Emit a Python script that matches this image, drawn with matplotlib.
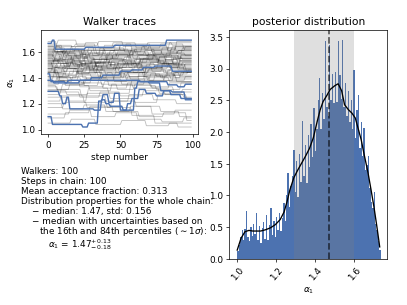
import numpy as np
import matplotlib.pyplot as plt

# walker chains, stored as (step, value) change points; each value holds until the next point
n_steps = 100
gray_walkers = [
    [(0, 1.62), (7, 1.58), (15, 1.60), (29, 1.55), (41, 1.59), (58, 1.63), (72, 1.60), (88, 1.64)],
    [(0, 1.55), (4, 1.52), (18, 1.57), (26, 1.49), (44, 1.53), (61, 1.50), (77, 1.56), (93, 1.54)],
    [(0, 1.48), (9, 1.51), (21, 1.46), (35, 1.50), (47, 1.44), (63, 1.48), (80, 1.52), (91, 1.47)],
    [(0, 1.68), (6, 1.64), (19, 1.66), (33, 1.61), (50, 1.65), (67, 1.62), (84, 1.67)],
    [(0, 1.41), (11, 1.45), (24, 1.40), (37, 1.47), (52, 1.43), (69, 1.46), (86, 1.42)],
    [(0, 1.52), (5, 1.56), (17, 1.50), (30, 1.54), (45, 1.58), (59, 1.55), (74, 1.59), (95, 1.57)],
    [(0, 1.35), (8, 1.38), (22, 1.33), (39, 1.37), (55, 1.41), (70, 1.38), (87, 1.44)],
    [(0, 1.60), (12, 1.57), (25, 1.62), (40, 1.58), (56, 1.54), (73, 1.59), (90, 1.61)],
    [(0, 1.45), (3, 1.49), (16, 1.53), (31, 1.47), (48, 1.51), (64, 1.55), (82, 1.50)],
    [(0, 1.58), (10, 1.54), (23, 1.59), (36, 1.63), (53, 1.60), (68, 1.57), (85, 1.62)],
    [(0, 1.30), (13, 1.27), (28, 1.32), (42, 1.28), (57, 1.34), (75, 1.31), (92, 1.36)],
    [(0, 1.50), (6, 1.47), (20, 1.43), (34, 1.48), (49, 1.45), (66, 1.41), (83, 1.46)],
    [(0, 1.64), (9, 1.60), (24, 1.56), (38, 1.61), (54, 1.66), (71, 1.63), (89, 1.59)],
    [(0, 1.25), (14, 1.22), (27, 1.28), (43, 1.24), (60, 1.21), (76, 1.27), (94, 1.25)],
    [(0, 1.56), (4, 1.60), (19, 1.64), (32, 1.59), (46, 1.62), (62, 1.58), (79, 1.63)],
    [(0, 1.42), (8, 1.38), (21, 1.42), (37, 1.39), (51, 1.35), (67, 1.40), (84, 1.37)],
    [(0, 1.53), (11, 1.49), (26, 1.52), (41, 1.56), (58, 1.51), (74, 1.48), (91, 1.53)],
    [(0, 1.20), (10, 1.16), (25, 1.19), (40, 1.14), (57, 1.18), (72, 1.12), (88, 1.15)],
    [(0, 1.66), (7, 1.69), (20, 1.65), (35, 1.68), (52, 1.64), (69, 1.67), (86, 1.65)],
    [(0, 1.47), (5, 1.43), (18, 1.47), (33, 1.52), (47, 1.49), (63, 1.53), (81, 1.49)],
    [(0, 1.38), (12, 1.34), (29, 1.30), (44, 1.35), (59, 1.32), (77, 1.28), (93, 1.31)],
    [(0, 1.57), (9, 1.53), (23, 1.49), (39, 1.54), (55, 1.57), (70, 1.53), (87, 1.56)],
    [(0, 1.12), (15, 1.15), (30, 1.10), (47, 1.13), (62, 1.08), (79, 1.06), (94, 1.09)],
    [(0, 1.61), (6, 1.65), (17, 1.61), (31, 1.57), (48, 1.60), (65, 1.64), (83, 1.60)],
    [(0, 1.44), (10, 1.48), (24, 1.44), (38, 1.40), (53, 1.44), (68, 1.50), (85, 1.47)],
    [(0, 1.33), (7, 1.29), (22, 1.25), (36, 1.29), (50, 1.26), (66, 1.30), (81, 1.27), (96, 1.24)],
    [(0, 1.54), (13, 1.58), (27, 1.54), (42, 1.50), (60, 1.54), (76, 1.51), (92, 1.58)],
    [(0, 1.05), (16, 1.08), (33, 1.04), (51, 1.07), (68, 1.03), (84, 1.05)],
    [(0, 1.49), (4, 1.54), (19, 1.50), (34, 1.46), (50, 1.50), (66, 1.46), (82, 1.43), (97, 1.46)],
    [(0, 1.59), (11, 1.62), (26, 1.57), (43, 1.61), (59, 1.57), (75, 1.54), (90, 1.58)],
    [(0, 1.27), (9, 1.31), (23, 1.26), (40, 1.22), (56, 1.27), (73, 1.23), (89, 1.20)],
    [(0, 1.46), (7, 1.42), (21, 1.46), (36, 1.43), (54, 1.39), (71, 1.43), (88, 1.40)],
    [(0, 1.63), (12, 1.59), (28, 1.63), (45, 1.67), (61, 1.63), (78, 1.66), (94, 1.62)],
    [(0, 1.17), (11, 1.21), (27, 1.17), (44, 1.22), (61, 1.18), (78, 1.14), (91, 1.10)],
    [(0, 1.51), (8, 1.55), (22, 1.51), (37, 1.55), (53, 1.52), (69, 1.56), (86, 1.52)],
    [(0, 1.40), (14, 1.36), (30, 1.41), (46, 1.37), (63, 1.42), (80, 1.38), (95, 1.41)],
    [(0, 1.57), (5, 1.53), (16, 1.56), (32, 1.52), (49, 1.48), (65, 1.52), (82, 1.57)],
    [(0, 1.22), (9, 1.26), (25, 1.21), (41, 1.17), (58, 1.11), (74, 1.05), (90, 1.02)],
    [(0, 1.65), (10, 1.61), (24, 1.58), (39, 1.62), (56, 1.59), (72, 1.62), (89, 1.68)],
    [(0, 1.36), (6, 1.40), (20, 1.44), (35, 1.40), (51, 1.46), (67, 1.42), (85, 1.39)],
    [(0, 1.53), (13, 1.50), (29, 1.46), (46, 1.51), (62, 1.47), (79, 1.51), (95, 1.48)],
    [(0, 1.09), (12, 1.13), (29, 1.18), (45, 1.14), (63, 1.10), (80, 1.13), (96, 1.07)],
    [(0, 1.44), (8, 1.40), (23, 1.36), (38, 1.32), (55, 1.36), (71, 1.33), (87, 1.29)],
    [(0, 1.60), (11, 1.56), (25, 1.52), (41, 1.57), (57, 1.61), (73, 1.57), (91, 1.53)],
    [(0, 1.31), (10, 1.35), (26, 1.39), (42, 1.34), (58, 1.38), (74, 1.42), (89, 1.37)],
    [(0, 1.50), (3, 1.53), (9, 1.49), (16, 1.52), (24, 1.55), (33, 1.51), (41, 1.47), (52, 1.50), (64, 1.54), (78, 1.51), (90, 1.55)],
    [(0, 1.43), (5, 1.46), (12, 1.42), (20, 1.45), (27, 1.49), (38, 1.45), (47, 1.48), (59, 1.44), (70, 1.47), (83, 1.50), (94, 1.46)],
    [(0, 1.58), (4, 1.55), (11, 1.59), (19, 1.56), (28, 1.52), (36, 1.56), (48, 1.59), (57, 1.55), (69, 1.58), (81, 1.54), (92, 1.57)],
    [(0, 1.47), (6, 1.51), (14, 1.55), (23, 1.51), (31, 1.54), (43, 1.50), (54, 1.53), (62, 1.57), (76, 1.53), (87, 1.50)],
    [(0, 1.39), (4, 1.43), (13, 1.47), (21, 1.43), (29, 1.46), (40, 1.42), (51, 1.46), (60, 1.49), (72, 1.45), (85, 1.48), (96, 1.44)],
    [(0, 1.55), (7, 1.51), (15, 1.47), (22, 1.51), (34, 1.48), (44, 1.52), (56, 1.48), (66, 1.45), (79, 1.49), (93, 1.52)],
    [(0, 1.62), (5, 1.59), (13, 1.62), (22, 1.58), (30, 1.61), (39, 1.65), (50, 1.61), (61, 1.58), (73, 1.61), (86, 1.64)],
    [(0, 1.45), (6, 1.41), (15, 1.45), (25, 1.48), (32, 1.44), (45, 1.41), (55, 1.44), (68, 1.48), (80, 1.44), (91, 1.41)],
    [(0, 1.52), (3, 1.48), (12, 1.52), (18, 1.49), (29, 1.45), (37, 1.49), (49, 1.53), (58, 1.49), (71, 1.52), (84, 1.48), (95, 1.51)],
    [(0, 1.37), (8, 1.41), (16, 1.38), (25, 1.34), (35, 1.38), (46, 1.42), (57, 1.39), (67, 1.43), (78, 1.40), (92, 1.44)],
    [(0, 1.59), (4, 1.63), (10, 1.59), (20, 1.55), (28, 1.59), (40, 1.55), (49, 1.58), (60, 1.62), (74, 1.58), (86, 1.55)],
    [(0, 1.49), (5, 1.45), (14, 1.49), (24, 1.53), (33, 1.49), (42, 1.53), (53, 1.56), (64, 1.52), (77, 1.56), (89, 1.53)],
    [(0, 1.41), (7, 1.37), (17, 1.41), (27, 1.38), (36, 1.42), (47, 1.45), (56, 1.41), (69, 1.38), (81, 1.42), (94, 1.45)],
    [(0, 1.56), (6, 1.60), (14, 1.57), (23, 1.61), (34, 1.58), (45, 1.54), (57, 1.58), (67, 1.61), (79, 1.58), (90, 1.61)],
    [(0, 1.47), (4, 1.44), (11, 1.47), (21, 1.43), (30, 1.40), (41, 1.44), (51, 1.40), (63, 1.44), (75, 1.41), (88, 1.44)],
    [(0, 1.53), (8, 1.57), (17, 1.53), (26, 1.57), (36, 1.61), (47, 1.57), (59, 1.60), (70, 1.56), (82, 1.59), (93, 1.63)],
    [(0, 1.34), (6, 1.31), (15, 1.35), (25, 1.39), (37, 1.35), (48, 1.31), (60, 1.35), (72, 1.32), (84, 1.36)],
    [(0, 1.64), (5, 1.60), (16, 1.64), (26, 1.67), (35, 1.63), (47, 1.66), (58, 1.62), (70, 1.65), (83, 1.61), (95, 1.64)],
    [(0, 1.51), (7, 1.47), (13, 1.51), (22, 1.47), (33, 1.51), (43, 1.55), (52, 1.51), (65, 1.47), (76, 1.50), (90, 1.46)],
    [(0, 1.44), (5, 1.48), (14, 1.52), (24, 1.48), (34, 1.52), (44, 1.48), (55, 1.52), (66, 1.55), (77, 1.51), (87, 1.55)],
]
blue_walkers = [
    [(0, 1.665), (3, 1.69), (5, 1.62), (26, 1.635), (46, 1.65), (82, 1.69)],
    [(0, 1.43), (2, 1.37), (12, 1.36), (22, 1.38), (40, 1.38), (64, 1.37), (83, 1.345), (90, 1.33), (95, 1.35)],
    [(0, 1.38), (4, 1.36), (14, 1.38), (30, 1.40), (38, 1.42), (50, 1.45), (58, 1.46), (66, 1.48), (74, 1.49), (86, 1.45)],
    [(0, 1.295), (8, 1.26), (10, 1.20), (13, 1.25), (15, 1.16), (32, 1.15), (37, 1.23), (40, 1.20), (43, 1.18),
     (52, 1.15), (60, 1.32), (62, 1.37), (70, 1.36), (78, 1.30), (86, 1.29), (95, 1.23)],
    [(0, 1.10), (3, 1.04), (24, 1.02), (28, 1.05), (35, 1.22), (38, 1.27), (42, 1.21), (46, 1.28), (50, 1.15),
     (55, 1.20), (58, 1.24), (63, 1.31), (68, 1.28), (75, 1.26), (80, 1.30), (85, 1.27), (92, 1.24)],
]

# posterior histogram (density per bin) over [hist_lo, hist_hi]
hist_lo, hist_hi = 1.0, 1.735
hist_density = [
    0.12, 0.22, 0.35, 0.46, 0.30, 0.47, 0.75, 0.34, 0.28, 0.50,
    0.36, 0.55, 0.40, 0.73, 0.30, 0.52, 0.25, 0.49, 0.58, 0.32,
    0.69, 0.30, 0.54, 0.80, 0.38, 0.60, 0.35, 0.66, 0.46, 0.72,
    0.44, 0.64, 0.88, 0.60, 1.00, 1.36, 0.82, 1.15, 1.30, 1.72,
    1.05, 1.55, 0.98, 1.66, 1.22, 2.17, 1.30, 1.80, 1.20, 1.95,
    1.45, 2.12, 1.60, 2.38, 1.70, 2.05, 2.50, 2.85, 2.05, 2.62,
    2.20, 3.44, 2.40, 2.25, 3.37, 2.50, 2.92, 2.45, 2.95, 2.48,
    3.43, 2.90, 2.52, 3.45, 2.40, 2.78, 2.25, 2.65, 2.15, 2.50,
    2.05, 2.98, 1.90, 2.35, 2.59, 1.75, 2.15, 1.62, 2.06, 1.40,
    1.48, 1.62, 1.12, 0.90, 0.80, 1.06, 0.55, 0.46, 0.28, 0.14,
]

# smoothed density curve
kde_x = [1.00, 1.02, 1.04, 1.06, 1.08, 1.10, 1.12, 1.145, 1.17, 1.195, 1.22, 1.24, 1.255, 1.27,
         1.29, 1.31, 1.33, 1.35, 1.37, 1.39, 1.41, 1.425, 1.44, 1.46, 1.476, 1.50, 1.517, 1.535,
         1.55, 1.57, 1.587, 1.605, 1.62, 1.635, 1.65, 1.67, 1.685, 1.70, 1.715, 1.73]
kde_y = [0.14, 0.33, 0.43, 0.45, 0.44, 0.44, 0.44, 0.46, 0.49, 0.54, 0.62, 0.74, 0.90, 1.09,
         1.28, 1.40, 1.51, 1.62, 1.74, 1.91, 2.17, 2.35, 2.48, 2.58, 2.67, 2.73, 2.76, 2.65,
         2.43, 2.35, 2.30, 2.22, 2.05, 1.88, 1.65, 1.36, 1.10, 0.83, 0.52, 0.19]

median, err_up, err_lo = 1.47, 0.13, 0.18
std = 0.156
acceptance = 0.313
n_walkers = 100

blue = '#4C72B0'


def expand(points):
    vals = np.empty(n_steps)
    for k, (s, v) in enumerate(points):
        end = points[k + 1][0] if k + 1 < len(points) else n_steps
        vals[s:end] = v
    return vals


fig = plt.figure(figsize=(6.4, 4.8), dpi=63.6)
ax1 = fig.add_axes([0.1007, 0.5597, 0.3866, 0.3419])
ax2 = fig.add_axes([0.5636, 0.1508, 0.3870, 0.7485])

steps = np.arange(n_steps)
for w in gray_walkers:
    ax1.plot(steps, expand(w), color='k', alpha=0.25, lw=1.0)
for w in blue_walkers:
    ax1.plot(steps, expand(w), color=blue, lw=1.6)
ax1.set_xlim(-4.95, 103.95)
ax1.set_ylim(0.965, 1.77)
ax1.set_yticks([1.0, 1.2, 1.4, 1.6])
ax1.set_xlabel('step number')
ax1.set_ylabel(r'$\alpha_1$')
ax1.set_title('Walker traces')

edges = np.linspace(hist_lo, hist_hi, len(hist_density) + 1)
centers = 0.5 * (edges[:-1] + edges[1:])
ax2.hist(centers, bins=edges, weights=hist_density, color=blue)
ax2.axvspan(median - err_lo, median + err_up, color='gray', alpha=0.25, lw=0)
ax2.axvline(median, color='k', ls='--', lw=2, alpha=0.6)
ax2.plot(kde_x, kde_y, color='k', lw=1.5)
ax2.set_xlim(0.96, 1.767)
ax2.set_ylim(0, 3.6)
ax2.set_xticks([1.0, 1.2, 1.4, 1.6])
ax2.tick_params(axis='x', labelrotation=50)
ax2.set_xlabel(r'$\alpha_1$')
ax2.set_title('posterior distribution')

# summary text block
lines = [
    (0.052, 171.7, f'Walkers: {n_walkers}'),
    (0.052, 181.7, f'Steps in chain: {n_steps}'),
    (0.052, 191.7, f'Mean acceptance fraction: {acceptance:.3f}'),
    (0.052, 201.7, 'Distribution properties for the whole chain:'),
    (0.078, 211.4, f'\u2212 median: {median:.2f}, std: {std:.3f}'),
    (0.078, 221.3, '\u2212 median with uncertainties based on'),
    (0.097, 231.2, r'the 16th and 84th percentiles ($\sim1\sigma$):'),
    (0.118, 244.5, r'$\alpha_1$ = %.2f$^{+%.2f}_{-%.2f}$' % (median, err_up, err_lo)),
]
for x, ypx, s in lines:
    fig.text(x, 1 - ypx / 305, s, va='center', ha='left', fontsize=10)

fig.savefig('out.png', dpi=63.6)
